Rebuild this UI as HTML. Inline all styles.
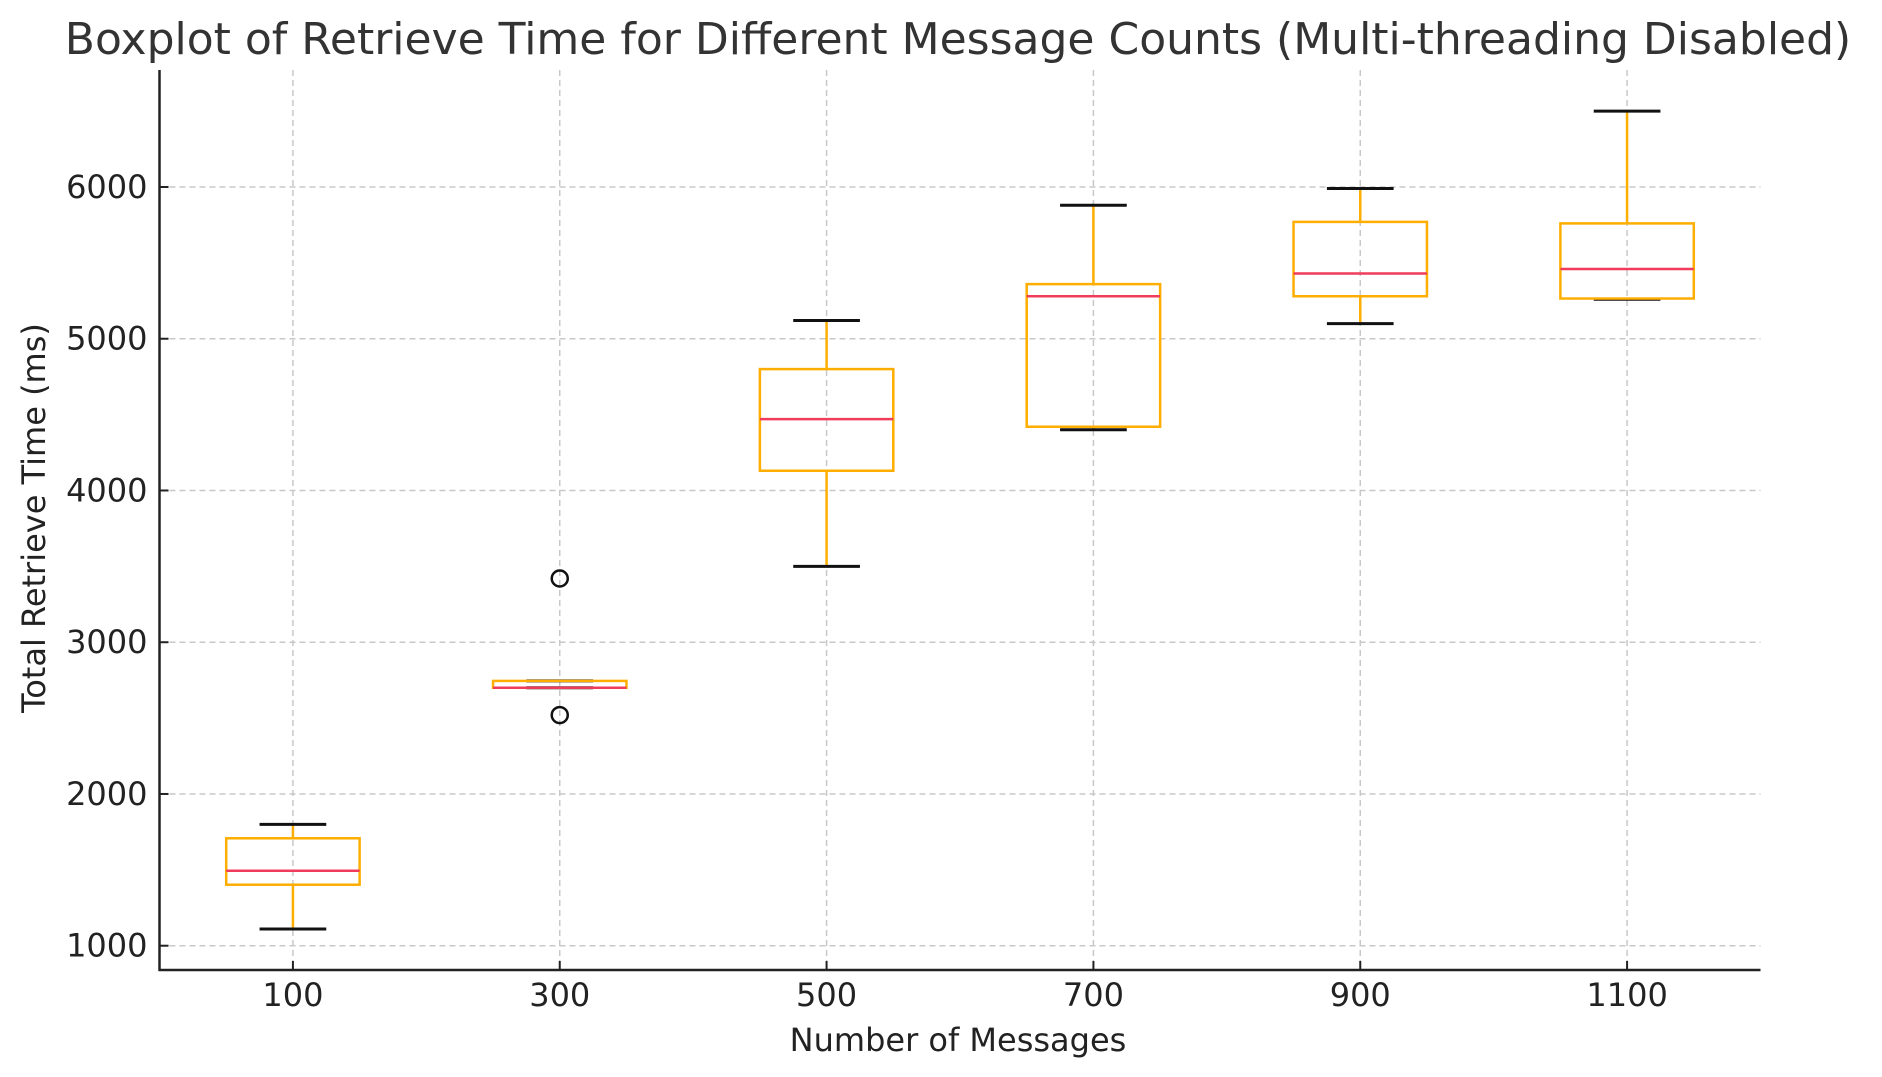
<!DOCTYPE html>
<html><head><meta charset="utf-8"><style>
html,body{margin:0;padding:0;background:#fff;}
svg{display:block;font-family:"DejaVu Sans","Liberation Sans",sans-serif;}
</style></head><body>
<svg id="chart" width="1882" height="1077" viewBox="0 0 1882 1077">
<text x="958" y="54" text-anchor="middle" font-size="44" fill="#333">Boxplot of Retrieve Time for Different Message Counts (Multi-threading Disabled)</text>
<g id="grid"></g>
<g id="boxes"></g>
<g id="axes"></g>
<text x="958" y="1051" text-anchor="middle" font-size="32" fill="#222">Number of Messages</text>
<text transform="translate(45,518) rotate(-90)" text-anchor="middle" font-size="32" fill="#222">Total Retrieve Time (ms)</text>
</svg>
<script>
const categories = ["100","300","500","700","900","1100"];
const whiskerLow = [1110, 2700, 3500, 4400, 5100, 5260];
const q1 = [1402, 2700, 4130, 4420, 5280, 5265];
const medians = [1494, 2700, 4470, 5280, 5430, 5460];
const q3 = [1708, 2745, 4800, 5360, 5770, 5760];
const whiskerHigh = [1800, 2745, 5120, 5880, 5990, 6500];
const outliers = [[], [3420, 2520], [], [], [], []];
const yTicks = [1000, 2000, 3000, 4000, 5000, 6000];

const L=159.5, R=1760.5, T=70, B=970;
const yMin=840, yMax=6771;
const ns="http://www.w3.org/2000/svg";
function xs(i){return L+(i+0.5)/categories.length*(R-L);}
function ys(v){return B-(v-yMin)/(yMax-yMin)*(B-T);}
const step=(R-L)/categories.length;
function mk(parent,tag,attrs){const e=document.createElementNS(ns,tag);for(const k in attrs)e.setAttribute(k,attrs[k]);parent.appendChild(e);return e;}
const grid=document.getElementById('grid'), boxes=document.getElementById('boxes'), axes=document.getElementById('axes');
yTicks.forEach(v=>{
  const g=mk(grid,'line',{x1:L,x2:R,y1:ys(v),y2:ys(v),stroke:'#c8c8c8','stroke-width':1.5,'stroke-dasharray':'6,4'});
  
  
  const t=mk(axes,'line',{x1:L,x2:L+9,y1:ys(v),y2:ys(v),stroke:'#222','stroke-width':2});
  
  
  const lb=mk(axes,'text',{x:L-12,y:ys(v)+11,'text-anchor':'end','font-size':32,fill:'#222'});
  lb.textContent=v;
  
  
});
categories.forEach((c,i)=>{
  const x=xs(i);
  const g=mk(grid,'line',{x1:x,x2:x,y1:T,y2:B,stroke:'#c8c8c8','stroke-width':1.5,'stroke-dasharray':'6,4'});
  
  
  const t=mk(axes,'line',{x1:x,x2:x,y1:B-9,y2:B,stroke:'#222','stroke-width':2});
  
  
  const lb=mk(axes,'text',{x:x,y:B+36,'text-anchor':'middle','font-size':32,fill:'#222'});
  lb.textContent=c;
  
  
  const hw=step*0.25, cw=step*0.125;
  const grp=mk(boxes,'g',{});
  
  
  mk(grp,'line',{x1:x,x2:x,y1:ys(whiskerLow[i]),y2:ys(q1[i]),stroke:'#ffae00','stroke-width':2.5});
  mk(grp,'line',{x1:x,x2:x,y1:ys(q3[i]),y2:ys(whiskerHigh[i]),stroke:'#ffae00','stroke-width':2.5});
  mk(grp,'line',{x1:x-cw,x2:x+cw,y1:ys(whiskerLow[i]),y2:ys(whiskerLow[i]),stroke:'#111','stroke-width':3});
  mk(grp,'line',{x1:x-cw,x2:x+cw,y1:ys(whiskerHigh[i]),y2:ys(whiskerHigh[i]),stroke:'#111','stroke-width':3});
  mk(grp,'rect',{x:x-hw,y:ys(q3[i]),width:2*hw,height:Math.max(ys(q1[i])-ys(q3[i]),0.5),fill:'none',stroke:'#ffae00','stroke-width':2.5});
  mk(grp,'line',{x1:x-hw,x2:x+hw,y1:ys(medians[i]),y2:ys(medians[i]),stroke:'#f03c5a','stroke-width':2.5});
  outliers[i].forEach(o=>{
    const ci=mk(grp,'circle',{cx:x,cy:ys(o),r:8,fill:'none',stroke:'#111','stroke-width':2.5});
    
    
  });
});
const sl=mk(axes,'line',{x1:L,x2:L,y1:T,y2:B+1,stroke:'#222','stroke-width':2.5});


const sb=mk(axes,'line',{x1:L-1,x2:R,y1:B,y2:B,stroke:'#222','stroke-width':2.5});


</script>
</body></html>
